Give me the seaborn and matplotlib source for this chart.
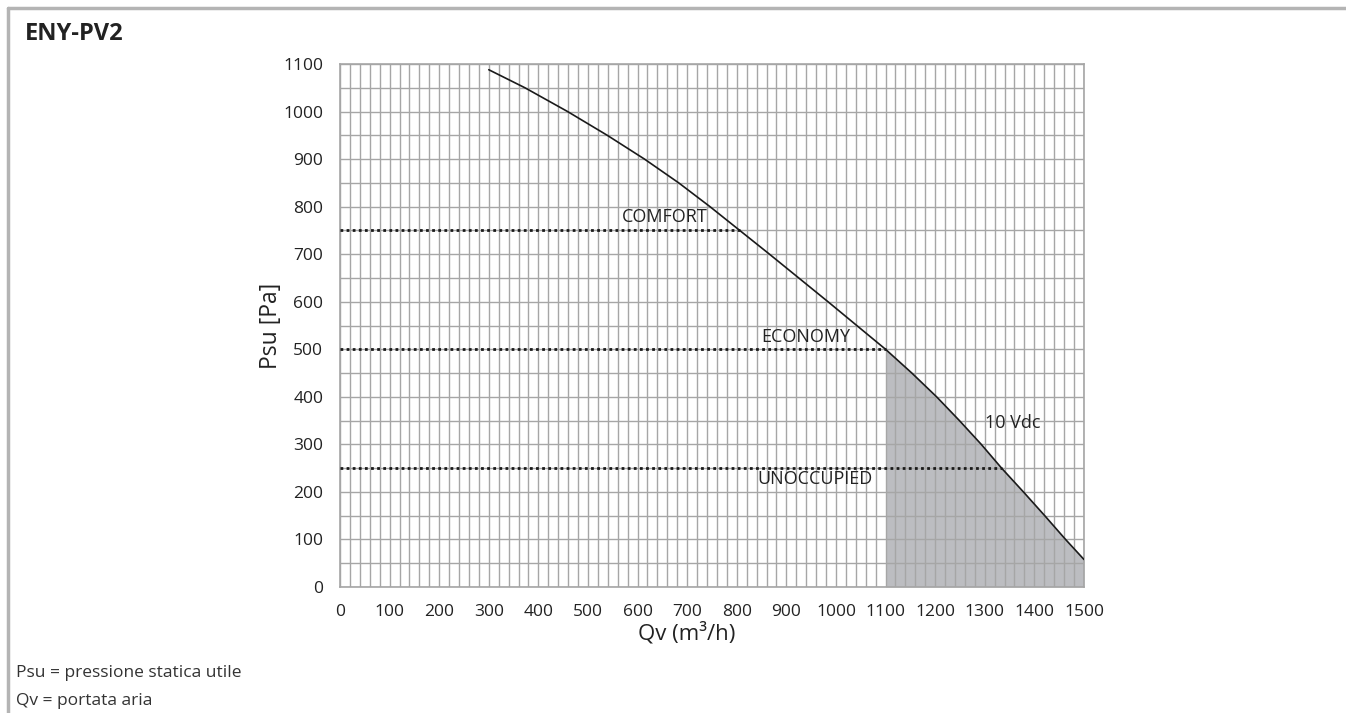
import matplotlib
matplotlib.use('Agg')
import matplotlib.pyplot as plt
import seaborn as sns
import pandas as pd
from matplotlib.ticker import MultipleLocator
from matplotlib.lines import Line2D

sns.set_theme(style='white')
plt.rcParams['font.family'] = ['Open Sans', 'DejaVu Sans']

# curve (Qv m3/h, Psu Pa)
flow = [300, 373, 459, 539, 614, 683, 746, 806, 866, 925, 984, 1042, 1100,
        1153, 1203, 1249, 1293, 1334, 1378, 1421, 1463, 1500]
pressure = [1088, 1050, 1000, 950, 900, 850, 800, 750, 700, 650, 600, 550, 500,
            450, 400, 350, 300, 250, 200, 150, 100, 58]

# operating points
mode_names = ['COMFORT', 'ECONOMY', 'UNOCCUPIED']
mode_psu = [750, 500, 250]
mode_qv = [806, 1100, 1334]

shade_from = 1100
x_ticks = list(range(0, 1501, 100))
y_ticks = list(range(0, 1101, 100))

df = pd.DataFrame({'Qv': flow, 'Psu': pressure})

fig = plt.figure(figsize=(13.46, 7.13), dpi=100)
ax = fig.add_axes([0.2526, 0.1767, 0.5527, 0.7335])

# shaded area under the curve
shade = df[df['Qv'] >= shade_from]
ax.fill_between(shade['Qv'], 0, shade['Psu'], color='#bcbdc1', zorder=1, linewidth=0)

sns.lineplot(data=df, x='Qv', y='Psu', ax=ax, color='#1a1a1a', linewidth=1.2, zorder=4)

for q, p in zip(mode_qv, mode_psu):
    ax.plot([0, q], [p, p], linestyle=(0, (1, 1.2)), color='#1a1a1a', linewidth=2, zorder=3)

lbl = dict(fontsize=13, ha='center', va='center', color='#222222', zorder=5)
ax.text(655, 779, mode_names[0], **lbl)
ax.text(939, 526, mode_names[1], **lbl)
ax.text(958, 227, mode_names[2], **lbl)
ax.text(1357, 345, '10 Vdc', **lbl)

ax.set_xlim(0, 1500)
ax.set_ylim(0, 1100)
ax.set_xticks(x_ticks)
ax.set_yticks(y_ticks)
ax.xaxis.set_minor_locator(MultipleLocator(20))
ax.yaxis.set_minor_locator(MultipleLocator(50))
ax.grid(which='both', color='#a6a6a6', linewidth=1.0)
for line in ax.get_xgridlines() + ax.get_ygridlines():
    line.set_zorder(2)
ax.set_axisbelow(False)
ax.tick_params(axis='both', which='both', length=0, labelsize=12.5, colors='#222222', pad=12)
for s in ax.spines.values():
    s.set_color('#a6a6a6')
    s.set_linewidth(1.2)

ax.set_xlabel('Qv (m³/h)', fontsize=16, color='#222222')
ax.xaxis.set_label_coords(0.466, -0.066)
ax.set_ylabel('Psu [Pa]', fontsize=16.5, color='#222222')
ax.yaxis.set_label_coords(-0.077, 0.5)

fig.text(0.0186, 0.952, 'ENY-PV2', fontsize=17, fontweight='bold', color='#222222', va='center')
fig.text(0.012, 0.056, 'Psu = pressione statica utile', fontsize=12.5, color='#333333', va='center')
fig.text(0.012, 0.017, 'Qv = portata aria', fontsize=12.5, color='#333333', va='center')

# frame lines along top and left of the figure
fig.add_artist(Line2D([0.006, 1.0], [0.989, 0.989], transform=fig.transFigure, color='#b4b4b4', linewidth=2.5))
fig.add_artist(Line2D([0.006, 0.006], [0.0, 0.989], transform=fig.transFigure, color='#b4b4b4', linewidth=2.5))

plt.savefig('out.png', dpi=100)
